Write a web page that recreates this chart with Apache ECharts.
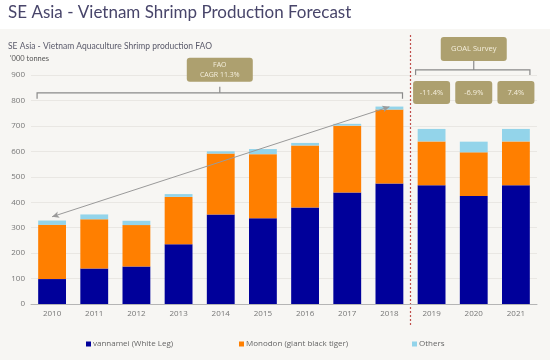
<!DOCTYPE html>
<html><head><meta charset="utf-8">
<script src="https://cdn.jsdelivr.net/npm/echarts@6/dist/echarts.min.js"></script>
<style>html,body{margin:0;padding:0;background:#fff}#c{width:550px;height:360px}</style>
</head><body><div id="c"></div>
<script>
const categories = ['2010','2011','2012','2013','2014','2015','2016','2017','2018','2019','2020','2021'];
const vannamei = [98,140,147,235,352,337,379,438,474,467,424,467];
const monodon  = [213,193,163,186,239,252,244,263,290,172,172,172];
const others   = [17,19,17,11,9,20,10,7,12,49,42,49];
const yTicks = {min:0, max:900, interval:100};
const surveyLabels = ['-11.4%','-6.9%','7.4%'];
const trendFrom = ['2010', 343];
const trendTo = ['2018', 775];

const FONT = '"Open Sans", "Noto Sans", sans-serif';
const TFONT = 'Lato, "Open Sans", sans-serif';
const GOLD = '#ada06f';
const chart = echarts.init(document.getElementById('c'), null, {renderer:'canvas'});

const legendCommon = (name, left) => ({
  data:[name], left:left, top:340, padding:0, itemWidth:5, itemHeight:5, icon:'rect',
  textStyle:{fontSize:8, color:'#666', fontFamily:FONT, padding:[0,0,0,-3]}
});

chart.setOption({
  animation:false,
  backgroundColor:'#fff',
  grid:{left:31, right:13, top:75, bottom:56},
  xAxis:{type:'category', data:categories,
    axisLine:{lineStyle:{color:'#b5b5b5'}}, axisTick:{show:false},
    axisLabel:{fontSize:8, color:'#777', fontFamily:FONT, margin:6}},
  yAxis:{type:'value', min:yTicks.min, max:yTicks.max, interval:yTicks.interval,
    axisLine:{show:false}, axisTick:{show:false},
    splitLine:{lineStyle:{color:'#e9e7e3'}},
    axisLabel:{fontSize:8, color:'#777', fontFamily:FONT, margin:6}},
  legend:[legendCommon('vannamei (White Leg)',86), legendCommon('Monodon (giant black tiger)',239), legendCommon('Others',412)],
  series:[
    {name:'vannamei (White Leg)', type:'bar', stack:'t', data:vannamei, barWidth:'66%', itemStyle:{color:'#00009a'}},
    {name:'Monodon (giant black tiger)', type:'bar', stack:'t', data:monodon, itemStyle:{color:'#ff7f00'}},
    {name:'Others', type:'bar', stack:'t', data:others, itemStyle:{color:'#93d4ea'}},
    {name:'trend', type:'line', data:[], silent:true,
      markLine:{silent:true, symbol:['arrow','arrow'], symbolSize:[5,7],
        label:{show:false}, lineStyle:{color:'#9a9a9a', width:1, type:'solid'},
        data:[[{coord:trendFrom},{coord:trendTo}]]}}
  ]
});

function pt(cat, v){ return chart.convertToPixel({gridIndex:0}, [categories.indexOf(cat), v]); }
const x2010 = pt('2010',0)[0], x2018 = pt('2018',0)[0], x2019 = pt('2019',0)[0], x2021 = pt('2021',0)[0], x2020 = pt('2020',0)[0];
const divX = (x2018 + x2019)/2;
const lineStyle = {stroke:'#8a8a8a', lineWidth:1.2};
const g = [];
g.push({type:'rect', z:-10, silent:true, shape:{x:0,y:29,width:550,height:331}, style:{fill:'#f7f6f3'}});
g.push({type:'text', left:8, top:4, style:{text:'SE Asia - Vietnam Shrimp Production Forecast', fontSize:17, fontFamily:TFONT, fill:'#48456a'}});
g.push({type:'text', left:8, top:42, style:{text:'SE Asia - Vietnam Aquaculture Shrimp production FAO', fontSize:8.5, fontFamily:TFONT, fill:'#5a5a6a'}});
g.push({type:'text', left:10, top:55, style:{text:"'000 tonnes", fontSize:7.5, fontFamily:TFONT, fill:'#555'}});
g.push({type:'line', shape:{x1:divX, y1:35, x2:divX, y2:326}, style:{stroke:'#c0504d', lineWidth:1.2, lineDash:[2,2]}});
const byY = pt('2010', 830)[1];
const bl = x2010 - 15, br = divX - 8, bc = (bl+br)/2;
g.push({type:'polyline', shape:{points:[[bl,byY+6],[bl,byY],[br,byY],[br,byY+6]]}, style:Object.assign({fill:null}, lineStyle)});
g.push({type:'line', shape:{x1:bc, y1:byY-6, x2:bc, y2:byY}, style:lineStyle});
g.push({type:'rect', shape:{x:bc-33, y:byY-35, width:66, height:24, r:3}, style:{fill:GOLD}});
g.push({type:'text', x:bc, y:byY-23, style:{text:'FAO\nCAGR 11.3%', fontSize:7, lineHeight:10, fontFamily:FONT, fill:'#f4eedc', align:'center', verticalAlign:'middle'}});
const gy = pt('2019', 920)[1];
const gl = x2019 - 16, gr = x2021 + 14, gc = x2020;
g.push({type:'rect', shape:{x:gc-33, y:gy-33, width:66, height:24, r:3}, style:{fill:GOLD}});
g.push({type:'text', x:gc, y:gy-21, style:{text:'GOAL Survey', fontSize:7.5, fontFamily:FONT, fill:'#f4eedc', align:'center', verticalAlign:'middle'}});
g.push({type:'polyline', shape:{points:[[gl,gy+5],[gl,gy],[gr,gy],[gr,gy+5]]}, style:Object.assign({fill:null}, lineStyle)});
g.push({type:'line', shape:{x1:gc, y1:gy-9, x2:gc, y2:gy}, style:lineStyle});
surveyLabels.forEach((t,i)=>{
  const cx = pt(categories[9+i], 0)[0];
  g.push({type:'rect', shape:{x:cx-18.5, y:gy+11, width:37, height:23, r:3}, style:{fill:GOLD}});
  g.push({type:'text', x:cx, y:gy+22.5, style:{text:t, fontSize:7.5, fontFamily:FONT, fill:'#f4eedc', align:'center', verticalAlign:'middle'}});
});
chart.setOption({graphic:g});
</script></body></html>
